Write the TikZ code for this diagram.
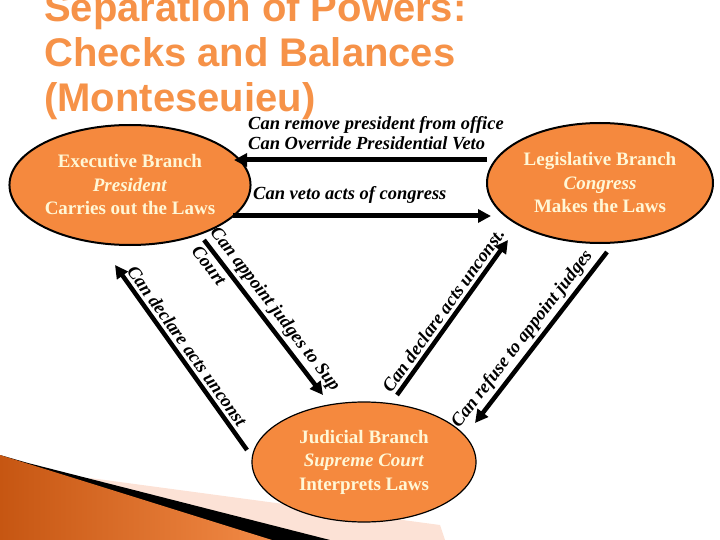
\documentclass[tikz,border=0pt]{standalone}
\usepackage{fontspec}
\setmainfont{Liberation Serif}[BoldFont={Liberation Serif Bold},
	ItalicFont={Liberation Serif Italic}, BoldItalicFont={Liberation Serif Bold Italic}]
\newfontfamily\titlefont{Liberation Sans}
\usetikzlibrary{arrows.meta,shapes.geometric}

\definecolor{titleorange}{RGB}{246,146,72}
\definecolor{branchfill}{RGB}{245,137,62}
\definecolor{branchtext}{RGB}{255,247,214}
\definecolor{bandpink}{RGB}{252,226,214}
\definecolor{banddark}{RGB}{198,86,18}
\definecolor{bandlight}{RGB}{242,138,70}

\tikzset{
	branch/.style={ellipse, draw=black, line width=2pt, fill=branchfill, text=branchtext,
		align=center, inner sep=0pt, font=\fontsize{19}{23.5}\selectfont\bfseries},
	titleline/.style={anchor=base west, inner sep=0pt, text=titleorange,
		font=\titlefont\fontsize{40}{45}\selectfont\bfseries},
	checklbl/.style={inner sep=3pt, font=\fontsize{18.5}{20}\selectfont\bfseries\itshape},
	checkarrow/.style={line width=4.5pt, -{Triangle[length=13pt,width=13pt]}},
}

\begin{document}
\begin{tikzpicture}[x=1pt,y=-1pt]
		\useasboundingbox (0,0) rectangle (720,540);

		% polosa vnizu sleva
		\fill [bandpink] (90,478) -- (440,525) -- (445,540) -- (90,540) -- cycle;
		\fill [black] (0,455) -- (28,463) -- (330,540) -- (0,540) -- cycle;
		\shade [left color=banddark, right color=bandlight] (0,455) -- (272,540) -- (0,540) -- cycle;

		% zagolovok
		\node [titleline] (title1) at ( 44, 22 ) {Separation of Powers:};
		\node [titleline] (title2) at ( 44, 67 ) {Checks and Balances};
		\node [titleline] (title3) at ( 44,112 ) {(Monteseuieu)};

		% vetvi vlasti
		\node [branch, minimum width=222, minimum height=120] (exec) at ( 130,185 )
			{Executive Branch\\\textit{President}\\Carries out the Laws};
		\node [branch, minimum width=226, minimum height=120] (legis) at ( 600,183 )
			{Legislative Branch\\\textit{Congress}\\Makes the Laws};
		\node [branch, line width=1.2pt, minimum width=224, minimum height=120] (jud) at ( 364,462 )
			{Judicial Branch\\\textit{Supreme Court}\\Interprets Laws};

		% kongress -> prezident
		\coordinate (overrideS) at ( 487,160 );
		\coordinate (overrideE) at ( 234,160 );
		\draw [checkarrow, line width=5pt] (overrideS) -- (overrideE);
		\node [checklbl, anchor=base west, inner sep=0pt] (remove) at ( 248,130 ) {Can remove president from office};
		\node [checklbl, anchor=base west, inner sep=0pt] (override) at ( 248,150 ) {Can Override Presidential Veto};

		% prezident -> kongress
		\coordinate (vetoS) at ( 233,216 );
		\coordinate (vetoE) at ( 491,216 );
		\draw [checkarrow, line width=5pt] (vetoS) -- (vetoE);
		\node [checklbl, anchor=base west, inner sep=0pt] (veto) at ( 253,200 ) {Can veto acts of congress};

		% sud -> prezident
		\coordinate (declLS) at ( 247,450 );
		\coordinate (declLE) at ( 115,265 );
		\draw [checkarrow] (declLS) -- (declLE)
			node [checklbl, pos=0.97, sloped, anchor=south west] (declL) {Can declare acts unconst};

		% prezident -> sud
		\coordinate (appointS) at ( 204,240 );
		\coordinate (appointE) at ( 323,395 );
		\draw [checkarrow] (appointS) -- (appointE)
			node [checklbl, pos=-0.04, sloped, anchor=south west] (appoint) {Can appoint judges to Sup}
			node [checklbl, pos=-0.02, sloped, anchor=north west] (court) {Court};

		% sud -> kongress
		\coordinate (declRS) at ( 397,395 );
		\coordinate (declRE) at ( 508,240 );
		\draw [checkarrow] (declRS) -- (declRE)
			node [checklbl, pos=-0.04, sloped, anchor=south west] (declR) {Can declare acts unconst.};

		% kongress -> sud
		\coordinate (refuseS) at ( 607,252 );
		\coordinate (refuseE) at ( 475,423 );
		\draw [checkarrow] (refuseS) -- (refuseE)
			node [checklbl, pos=1.09, sloped, anchor=south west] (refuse) {Can refuse to appoint judges};
	\end{tikzpicture}
\end{document}
